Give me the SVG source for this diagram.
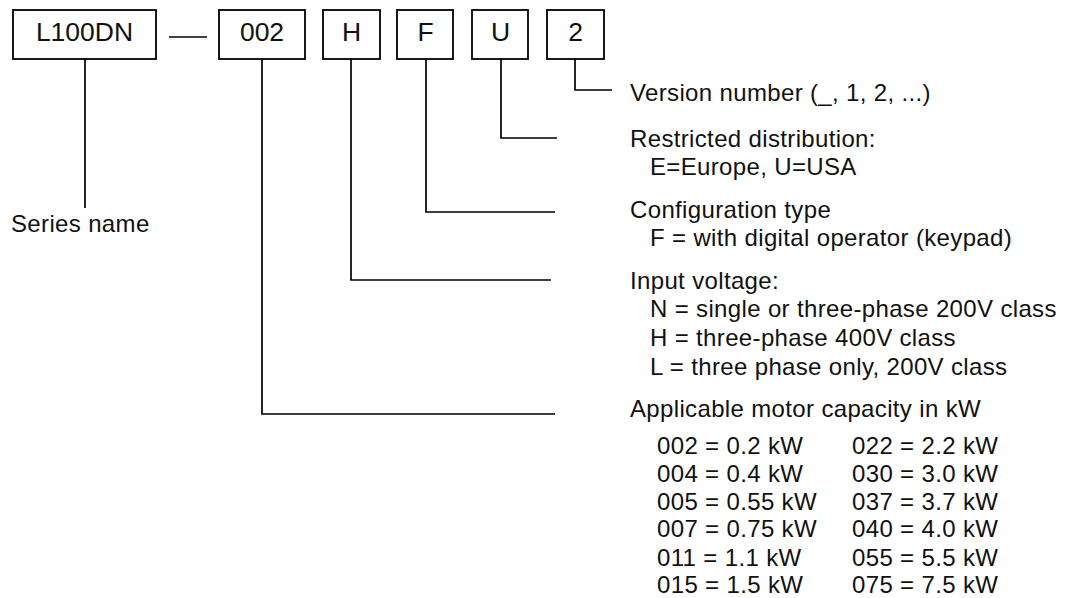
<svg xmlns="http://www.w3.org/2000/svg" width="1065" height="598" viewBox="0 0 1065 598">
<style>
.box{fill:#fff;stroke:#000;stroke-width:1.8}
.lbl{font-family:"Liberation Sans",Arial,sans-serif;font-size:26.5px;fill:#111;text-anchor:middle}
.t{font-family:"Liberation Sans",Arial,sans-serif;font-size:24px;letter-spacing:0.35px;fill:#111}
.c{fill:none;stroke:#000;stroke-width:1.7}
</style>
<rect width="1065" height="598" fill="#fff"/>
<g id="node-series"><rect class="box" x="13" y="10" width="143" height="49"/><text class="lbl" x="84.5" y="41">L100DN</text></g>
<g id="node-capacity"><rect class="box" x="219" y="10" width="86" height="49"/><text class="lbl" x="262" y="41">002</text></g>
<g id="node-voltage"><rect class="box" x="323" y="10" width="57" height="49"/><text class="lbl" x="351.5" y="41">H</text></g>
<g id="node-config"><rect class="box" x="397" y="10" width="56" height="49"/><text class="lbl" x="425.5" y="41">F</text></g>
<g id="node-dist"><rect class="box" x="472" y="10" width="56" height="49"/><text class="lbl" x="500.5" y="41">U</text></g>
<g id="node-version"><rect class="box" x="547" y="10" width="57" height="49"/><text class="lbl" x="575.5" y="41">2</text></g>
<g id="connectors">
<line class="c" x1="169" y1="37" x2="207" y2="37"/>
<line class="c" x1="85" y1="59" x2="85" y2="208"/>
<polyline class="c" points="262,59 262,414 555,414"/>
<polyline class="c" points="351,59 351,280 551,280"/>
<polyline class="c" points="426,59 426,212 555,212"/>
<polyline class="c" points="501,59 501,138 557,138"/>
<polyline class="c" points="575,59 575,90 612,90"/>
</g>
<g id="labels">
<text class="t" x="11" y="232">Series name</text>
<text class="t" x="630" y="101">Version number (_, 1, 2, ...)</text>
<text class="t" x="630" y="147">Restricted distribution:</text>
<text class="t" x="650" y="175">E=Europe, U=USA</text>
<text class="t" x="630" y="218">Configuration type</text>
<text class="t" x="650" y="246">F = with digital operator (keypad)</text>
<text class="t" x="630" y="289">Input voltage:</text>
<text class="t" x="650" y="317">N = single or three-phase 200V class</text>
<text class="t" x="650" y="346">H = three-phase 400V class</text>
<text class="t" x="650" y="375">L = three phase only, 200V class</text>
<text class="t" x="630" y="417">Applicable motor capacity in kW</text>
<text class="t" x="657" y="454">002 = 0.2 kW</text>
<text class="t" x="657" y="482">004 = 0.4 kW</text>
<text class="t" x="657" y="510">005 = 0.55 kW</text>
<text class="t" x="657" y="537">007 = 0.75 kW</text>
<text class="t" x="657" y="566">011 = 1.1 kW</text>
<text class="t" x="657" y="593">015 = 1.5 kW</text>
<text class="t" x="852" y="454">022 = 2.2 kW</text>
<text class="t" x="852" y="482">030 = 3.0 kW</text>
<text class="t" x="852" y="510">037 = 3.7 kW</text>
<text class="t" x="852" y="537">040 = 4.0 kW</text>
<text class="t" x="852" y="566">055 = 5.5 kW</text>
<text class="t" x="852" y="593">075 = 7.5 kW</text>
</g>
</svg>
